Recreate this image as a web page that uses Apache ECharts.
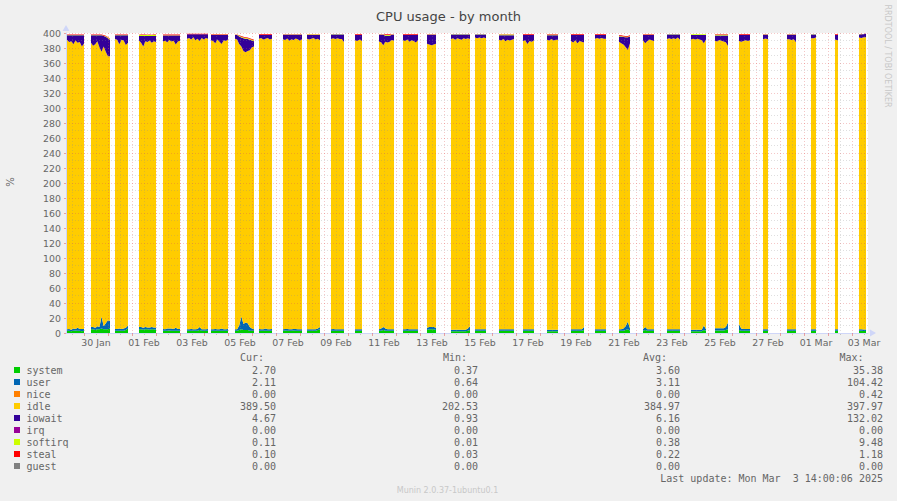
<!DOCTYPE html>
<html><head><meta charset="utf-8">
<script src="https://cdn.jsdelivr.net/npm/echarts@6/dist/echarts.min.js"></script>
<style>html,body{margin:0;padding:0;background:#F0F0F0}#c{width:897px;height:501px}</style>
</head><body><div id="c"></div><script>
// ---- data: one segment per day (Jan 29 .. Mar 3), hours of day when data exists ----
const segStart = [7,7,7,7,7,7,7,7,7,7,7,7,7,7,7,7,7,7,7,7,7,7,7,7,7,7,7,7,7,7,7,7,7,7];
const segEnd   = [24,26,20,24,24,28,24,26,20,26,20,20,14,22,22,16,26,18,22,18,18,20,18,18,18,20,22,20,18,12,16,12,10,14];

const system = [
 [3,3,2.5,3,3.5,3,3,2.5,3],[5,5,4,5,5,6,5,5,5,6],[3,3,3,3,3,4,6],[5,5,4.5,5,5,4.5,5,5,4.5],
 [3,3,3,3.5,3,3,3,3,3],[3,3,3,3,3,3,4,3,3,3,3],[3,3,3,3,3,3,3,3,3],[3,3,4,5,4,4,4,3,3,3],
 [3,3,3,3,3,3,3],[3,3.5,3,3,3,3.5,3,3,3,3],[3,3,3,3,3,4,5],[3,3,3,3,3,3,3],[3,3,3,3],
 [3,3,4,3,3,3,3,3],[3,3,3,3,3,3,3,3],[4,5,5,5,4],[2.5,2.5,2.5,2.5,2.5,2.5,2.5,2.5,3,4],
 [3,3,3,3,3,3],[3,3,3,3,3,3,3,3],[3,3,3,3,3,3],[2.5,2.5,2.5,2.5,2.5,2.5],[3,3,3,3,3,3,4],
 [3,3,3,3,3,3],[3,3,3,4,5,3],[3,4,3,3,3,3],[3,3,3,3,3,3,3],[2.5,2.5,2.5,2.5,2.5,2.5,4,3],
 [3.5,3.5,3.5,3.5,3.5,4,5],[4,3,3,3,3,3],[3,3,3],[3,3,3,3,3],[3,3,3],[3,3],[3,3,2.7,2.7]
];
const user = [
 [2,2.5,2,3,2,4,2.5,3,2.5],[3,3,3,4,3,16,4,8,12,10],[2.5,2.5,3,2.5,3,3,4],[3,3,2.5,3,2.5,3,3,2.5,3],
 [2.5,2,3,2.5,3,2.5,4,2.5,2.5],[2,2,2.5,2,2,2.5,4,2,2,2,2.5],[2,2,2.5,2,2,3,2,2,2.5],[2,2,6,17,8,10,9,5,3,2],
 [2.5,2,2,3,2,2,2.5],[2,2,2.5,2,2,2,2.5,2,2,2],[2,2,2,2,2,2,3],[2,2.5,2,2,2,2,2],[2,2,2,2],
 [2,3,4,3,2,2,2,2],[2,2,2.5,2,2,2,2,2],[3,3,3,3,3],[2,2,2,2,2,2,2,2,3,5],
 [2,2,2,2,2,2],[2,2,2,2,2,2,2,2],[2,2,2,2,2,2],[2,2,2,2,2,2],[2,2,2,2,2,2,4],
 [2,2,2,2,2,2],[2,2,3,5,10,3],[2,4,2,2,2,2],[2,2,2,2,2,2,2],[2,2,2,2,2,2,6,2],
 [3,3,3,3,3,4,9],[8,3,2.5,2.5,2.5,2.5],[2,2,2],[2,2,2,2,2],[2,2,2],[2,2],[2,2,2.1,2.11]
];
const idle = [
 [386,382.5,384.5,379,384.5,380,382.5,376.5,380.5],[379,375,378,380,373,353,373,362,352,353],
 [386.5,385.5,379,385.5,384,377,377],[382,379,375,381,380.5,382.5,379,381.5,380.5],
 [383.3,384.8,381.8,384.8,382.8,384.3,377.8,383.3,384.3],[387.2,388.2,385.7,389.2,385.2,386.7,381.2,388.2,386.2,388.2,386.7],
 [385.5,384.5,381,386.5,383.5,379.5,385.5,384.5,386],[387.5,386.5,375.5,360,364,360.5,363,369,375,377],
 [386.7,388.2,386.2,386.2,388.2,386.2,386.7],[386.7,385.2,387.2,384.7,386.7,385.2,387.2,386.7,384.7,386.7],
 [387.5,386.5,387.5,388.5,386.5,386.5,382.5],[387,387.5,387,388,387,387,383],[385.3,384.3,386.3,384.3],
 [383.7,381.7,375.7,382.5,382.5,383.5,385.7,384.7],[385.2,384.2,385.7,383.2,385.2,384.2,382.2,385.2],
 [378.7,376.7,375.7,376.7,378.7],[387.4,388.4,386.4,388.4,387.4,386.4,388.4,387.4,386.9,382.9],
 [389,388,389,388,389,388],[386,385,387,384,386,385,386,387],[384.3,385.3,380.3,384.3,383.3,385.3],
 [386.5,385.5,387.5,385.5,386.5,386.5],[384.3,382.3,385.3,381.3,384.3,383.3,379.3],
 [387.3,388.3,387.3,388.3,387.3,387.3],[383.2,381.2,378.7,372.2,362.2,380.2],
 [385.2,378.2,384.2,386.2,385.2,384.2],[386.9,387.9,386.9,387.9,386.9,388.9,385.9],
 [386.8,387.8,386.8,387.8,386.8,385.8,376.3,386.3],[383.2,382.2,384.2,383.2,382.2,379.7,368.7],
 [377.3,382.3,383.8,384.8,383.8,384.8],[386.7,387.7,386.7],[386.7,386.7,385.7,386.7,382.7],
 [388,388,389],[386.3,385.3],[389,388.5,389.5,389.5]
];
const iowait = [
 [6,9,8,12,7,10,9,15,11],[10,14,12,8,16,22,14,20,24,22],[5,6,12,6,7,13,10],[6,9,14,7,8,6,9,7,8],
 [8,7,9,6,8,7,12,8,7],[6,5,7,4,8,6,9,5,7,5,6],[7,8,11,6,9,12,7,8,6],[5,6,10,12,17,18,16,14,9,7],
 [5,4,6,5,4,6,5],[6,7,5,8,6,7,5,6,8,6],[5,6,5,4,6,5,7],[6,5,6,5,6,6,10],[7,8,6,8],
 [9,10,14,8,9,8,7,8],[7,8,6,9,7,8,10,7],[12,13,14,13,12],[6,5,7,5,6,7,5,6,5,6],
 [4,5,4,5,4,5],[6,7,5,8,6,7,6,5],[8,7,12,8,9,7],[6,7,5,7,6,6],[8,10,7,11,8,9,10],
 [5,4,5,4,5,5],[7,9,10,13,17,9],[7,11,8,6,7,8],[6,5,6,5,6,4,7],[6,5,6,5,6,7,11,6],
 [7,8,6,7,8,9,14],[8,9,8,7,8,7],[6,5,6],[6,6,7,6,10],[5,5,4],[6,7],[4,5,4,4.67]
];
const softirq = [
 [0.3,0.3,0.3,0.3,0.3,0.3,0.3,0.3,0.3],[0.3,0.3,0.3,0.3,0.3,0.3,0.5,0.8,1,1],[0.4,0.4,0.4,0.4,0.4,0.4,0.4],
 [1.2,1.8,1.5,1.4,1.6,1.5,1.3,1.7,1.5],[0.2,0.2,0.2,0.2,0.2,0.2,0.2,0.2,0.2],[0.3,0.3,0.3,0.3,0.3,0.3,0.3,0.3,0.3,0.3,0.3],
 [0.3,0.3,0.3,0.3,0.3,0.3,0.3,0.3,0.3],[0.2,0.2,0.8,1,1,1,1,1,1,1],[0.3,0.3,0.3,0.3,0.3,0.3,0.3],
 [0.3,0.3,0.3,0.3,0.3,0.3,0.3,0.3,0.3,0.3],[0.6,0.6,0.6,0.6,0.6,0.6,0.6],[0.2,0.2,0.2,0.2,0.2,0.2,0.2],[0.2,0.2,0.2,0.2],
 [0.3,0.3,0.3,1,1,1,0.3,0.3],[0.3,0.3,0.3,0.3,0.3,0.3,0.3,0.3],[0.3,0.3,0.3,0.3,0.3],[0.3,0.3,0.3,0.3,0.3,0.3,0.3,0.3,0.3,0.3],
 [0.2,0.2,0.2,0.2,0.2,0.2],[0.9,0.9,0.9,0.9,0.9,0.9,0.9,0.9],[0.2,0.2,0.2,0.2,0.2,0.2],[0.8,0.8,0.8,0.8,0.8,0.8],
 [0.2,0.2,0.2,0.2,0.2,0.2,0.2],[0.2,0.2,0.2,0.2,0.2,0.2],[0.8,0.8,0.8,0.8,0.8,0.8],[0.5,0.5,0.5,0.5,0.5,0.5],
 [0.3,0.3,0.3,0.3,0.3,0.3,0.3],[0.9,0.9,0.9,0.9,0.9,0.9,0.9,0.9],[1,1,1,1,1,1,1],[0.2,0.2,0.2,0.2,0.2,0.2],
 [0.3,0.3,0.3],[0.3,0.3,0.3,0.3,0.3],[0.2,0.2,0.2],[0.2,0.2],[0.2,0.2,0.1,0.11]
];
const steal = [
 [0.7,0.7,0.7,0.7,0.7,0.7,0.7,0.7,0.7],[0.7,0.7,0.7,0.7,0.7,0.7,0.7,0.7,0.7,0.7],[0.6,0.6,0.6,0.6,0.6,0.6,0.6],
 [0.5,0.5,0.5,0.5,0.5,0.5,0.5,0.5,0.5],[1,1,1,1,1,1,1,1,1],[0.5,0.5,0.5,0.5,0.5,0.5,0.5,0.5,0.5,0.5,0.5],
 [0.7,0.7,0.7,0.7,0.7,0.7,0.7,0.7,0.7],[0.3,0.3,0.7,1,1,1,1,1,1,1],[1,1,1,1,1,1,1],
 [0.5,0.5,0.5,0.5,0.5,0.5,0.5,0.5,0.5,0.5],[0.4,0.4,0.4,0.4,0.4,0.4,0.4],[0.3,0.3,0.3,0.3,0.3,0.3,0.3],[1,1,1,1],
 [0.5,0.5,0.5,1,1,1,0.5,0.5],[1,1,1,1,1,1,1,1],[0.5,0.5,0.5,0.5,0.5],[0.3,0.3,0.3,0.3,0.3,0.3,0.3,0.3,0.3,0.3],
 [0.3,0.3,0.3,0.3,0.3,0.3],[0.6,0.6,0.6,0.6,0.6,0.6,0.6,0.6],[1,1,1,1,1,1],[0.7,0.7,0.7,0.7,0.7,0.7],
 [1,1,1,1,1,1,1],[1,1,1,1,1,1],[1,1,1,1,1,1],[0.8,0.8,0.8,0.8,0.8,0.8],
 [0.3,0.3,0.3,0.3,0.3,0.3,0.3],[0.3,0.3,0.3,0.3,0.3,0.3,0.3,0.3],[0.8,0.8,0.8,0.8,0.8,0.8,0.8],[1,1,1,1,1,1],
 [0.5,0.5,0.5],[0.5,0.5,0.5,0.5,0.5],[0.3,0.3,0.3],[1,1],[0.2,0.2,0.1,0.1]
];
// per-day constant level of the (practically empty) series
const niceDay  = [0,0,0,0,0,0,0,0,0,0,0,0,0,0,0,0,0,0,0,0,0,0,0,0,0,0,0,0,0,0,0,0,0,0];
const irqDay   = [0,0,0,0,0,0,0,0,0,0,0,0,0,0,0,0,0,0,0,0,0,0,0,0,0,0,0,0,0,0,0,0,0,0];
const guestDay = [0,0,0,0,0,0,0,0,0,0,0,0,0,0,0,0,0,0,0,0,0,0,0,0,0,0,0,0,0,0,0,0,0,0];

const xTickLabels = ['30 Jan','01 Feb','03 Feb','05 Feb','07 Feb','09 Feb','11 Feb','13 Feb','15 Feb',
  '17 Feb','19 Feb','21 Feb','23 Feb','25 Feb','27 Feb','01 Mar','03 Mar'];

const legendNames = ['system','user','nice','idle','iowait','irq','softirq','steal','guest'];
const legendColors = ['#00CC00','#0066B3','#FF8000','#FFCC00','#330099','#990099','#CCFF00','#FF0000','#808080'];
const curVals = ['2.70','2.11','0.00','389.50','4.67','0.00','0.11','0.10','0.00'];
const minVals = ['0.37','0.64','0.00','202.53','0.93','0.00','0.01','0.03','0.00'];
const avgVals = ['3.60','3.11','0.00','384.97','6.16','0.00','0.38','0.22','0.00'];
const maxVals = ['35.38','104.42','0.42','397.97','132.02','0.00','9.48','1.18','0.00'];

// ---- build ----  time axis (ms) for the data; display axes in hours since 29 Jan 00:00
const T0 = Date.UTC(2025, 0, 29);
const H = 3600 * 1000;
function build(get) {
  const out = [];
  segEnd.forEach((e, i) => {
    const s = segStart[i], n = system[i].length;
    for (let j = 0; j < n; j++) out.push([T0 + (i * 24 + s + j * (e - s) / (n - 1)) * H, get(i, j)]);
    out.push([T0 + (i * 24 + e + 0.5) * H, null]);
  });
  return out;
}
const seriesData = [
  build((i, j) => system[i][j]),
  build((i, j) => user[i][j]),
  build((i, j) => niceDay[i]),
  build((i, j) => idle[i][j]),
  build((i, j) => iowait[i][j]),
  build((i, j) => irqDay[i]),
  build((i, j) => softirq[i][j]),
  build((i, j) => steal[i][j]),
  build((i, j) => guestDay[i])
];
const series = legendNames.map((name, k) => ({
  name, type: 'line', stack: 'cpu', data: seriesData[k], symbol: 'none', showSymbol: false,
  xAxisIndex: 0, connectNulls: false, lineStyle: { width: 0 }, areaStyle: { color: legendColors[k], opacity: 1 },
  itemStyle: { color: legendColors[k] }, z: 2, silent: true
}));

const labelHours = xTickLabels.map((_, k) => 36 + 48 * k);
const midnights = [], noons = [];
for (let d = 1; d <= 33; d++) midnights.push(d * 24);
for (let d = 0; d <= 33; d++) noons.push(d * 24 + 12);

const mono = '"DejaVu Sans Mono", monospace';
const sans = '"DejaVu Sans", sans-serif';
const txt = '#666666';
const majorGrid = 'rgba(225,80,80,0.32)';
const minorGrid = 'rgba(140,140,140,0.28)';
const graphic = [];
const colRight = [276, 478, 680, 883];
const headers = [['Cur:', 264], ['Min:', 467], ['Avg:', 667], ['Max:', 863.5]];
headers.forEach(([t, x]) => graphic.push({ type: 'text', x, y: 357.5, style: { text: t, font: '10px ' + mono, fill: txt, align: 'right', verticalAlign: 'middle' } }));
legendNames.forEach((name, k) => {
  const y = 370 + 12 * k;
  graphic.push({ type: 'rect', shape: { x: 14, y: y - 3, width: 6, height: 6 }, style: { fill: legendColors[k] } });
  graphic.push({ type: 'text', x: 26.5, y, style: { text: name, font: '10px ' + mono, fill: txt, verticalAlign: 'middle' } });
  [curVals, minVals, avgVals, maxVals].forEach((arr, c) => graphic.push({
    type: 'text', x: colRight[c], y, style: { text: arr[k], font: '10px ' + mono, fill: txt, align: 'right', verticalAlign: 'middle' } }));
});
graphic.push({ type: 'text', x: 883, y: 478, style: { text: 'Last update: Mon Mar \u00a03 14:00:06 2025', font: '10px ' + mono, fill: txt, align: 'right', verticalAlign: 'middle' } });
graphic.push({ type: 'text', x: 447.5, y: 490.5, style: { text: 'Munin 2.0.37-1ubuntu0.1', font: '8px ' + sans, fill: '#C8C8C8', align: 'center', verticalAlign: 'middle' } });
graphic.push({ type: 'text', x: 10, y: 182, rotation: Math.PI / 2, style: { text: '%', font: '10px ' + sans, fill: txt, align: 'center', verticalAlign: 'middle' } });
graphic.push({ type: 'text', x: 887, y: 56, rotation: -Math.PI / 2, style: { text: 'RRDTOOL / TOBI OETIKER', font: '8px ' + sans, fill: '#C8C8C8', align: 'center', verticalAlign: 'middle' } });

const chart = echarts.init(document.getElementById('c'), null, { renderer: 'svg' });
chart.setOption({
  backgroundColor: '#F0F0F0',
  animation: false,
  title: { text: 'CPU usage - by month', left: 'center', top: 5, textStyle: { fontFamily: sans, fontSize: 13, fontWeight: 'normal', color: '#444444' } },
  grid: { left: 66, right: 29, top: 33, bottom: 168, show: true, backgroundColor: '#FFFFFF', borderWidth: 0 },
  xAxis: [
    { type: 'time', min: T0 + 6 * H, max: T0 + 808 * H, show: false },
    { type: 'value', min: 6, max: 808, position: 'bottom', z: 10,
      axisLine: { show: true, onZero: false, lineStyle: { color: '#CFD6F8', width: 1 }, symbol: ['none', 'triangle'], symbolSize: [7, 6], symbolOffset: [0, 5] },
      axisTick: { show: true, customValues: midnights, length: 3, lineStyle: { color: 'rgba(225,80,80,0.5)' } },
      axisLabel: { customValues: labelHours, formatter: v => xTickLabels[Math.round((v - 36) / 48)], color: txt, fontFamily: sans, fontSize: 9.4, margin: 5 },
      splitLine: { show: true, lineStyle: { color: majorGrid, type: [1, 2], width: 1 } } },
    { type: 'value', min: 6, max: 808, position: 'bottom', z: 9,
      axisLine: { show: false }, axisLabel: { show: false },
      axisTick: { show: true, customValues: noons, length: 2, lineStyle: { color: 'rgba(140,140,140,0.45)' } },
      splitLine: { show: true, lineStyle: { color: minorGrid, type: [1, 2], width: 1 } } }
  ],
  yAxis: { type: 'value', min: 0, max: 400, interval: 20, z: 10,
    axisLine: { show: true, lineStyle: { color: '#CFD6F8', width: 1 }, symbol: ['none', 'triangle'], symbolSize: [7, 6], symbolOffset: [0, 5] },
    axisTick: { show: true, length: 2, inside: false, lineStyle: { color: 'rgba(225,80,80,0.5)' } },
    axisLabel: { color: txt, fontFamily: sans, fontSize: 9.4, margin: 5 },
    splitLine: { show: true, lineStyle: { color: majorGrid, type: [1, 2], width: 1 } },
    minorTick: { show: false, splitNumber: 2 },
    minorSplitLine: { show: true, lineStyle: { color: minorGrid, type: [1, 2], width: 1 } } },
  series,
  graphic
});
</script></body></html>
